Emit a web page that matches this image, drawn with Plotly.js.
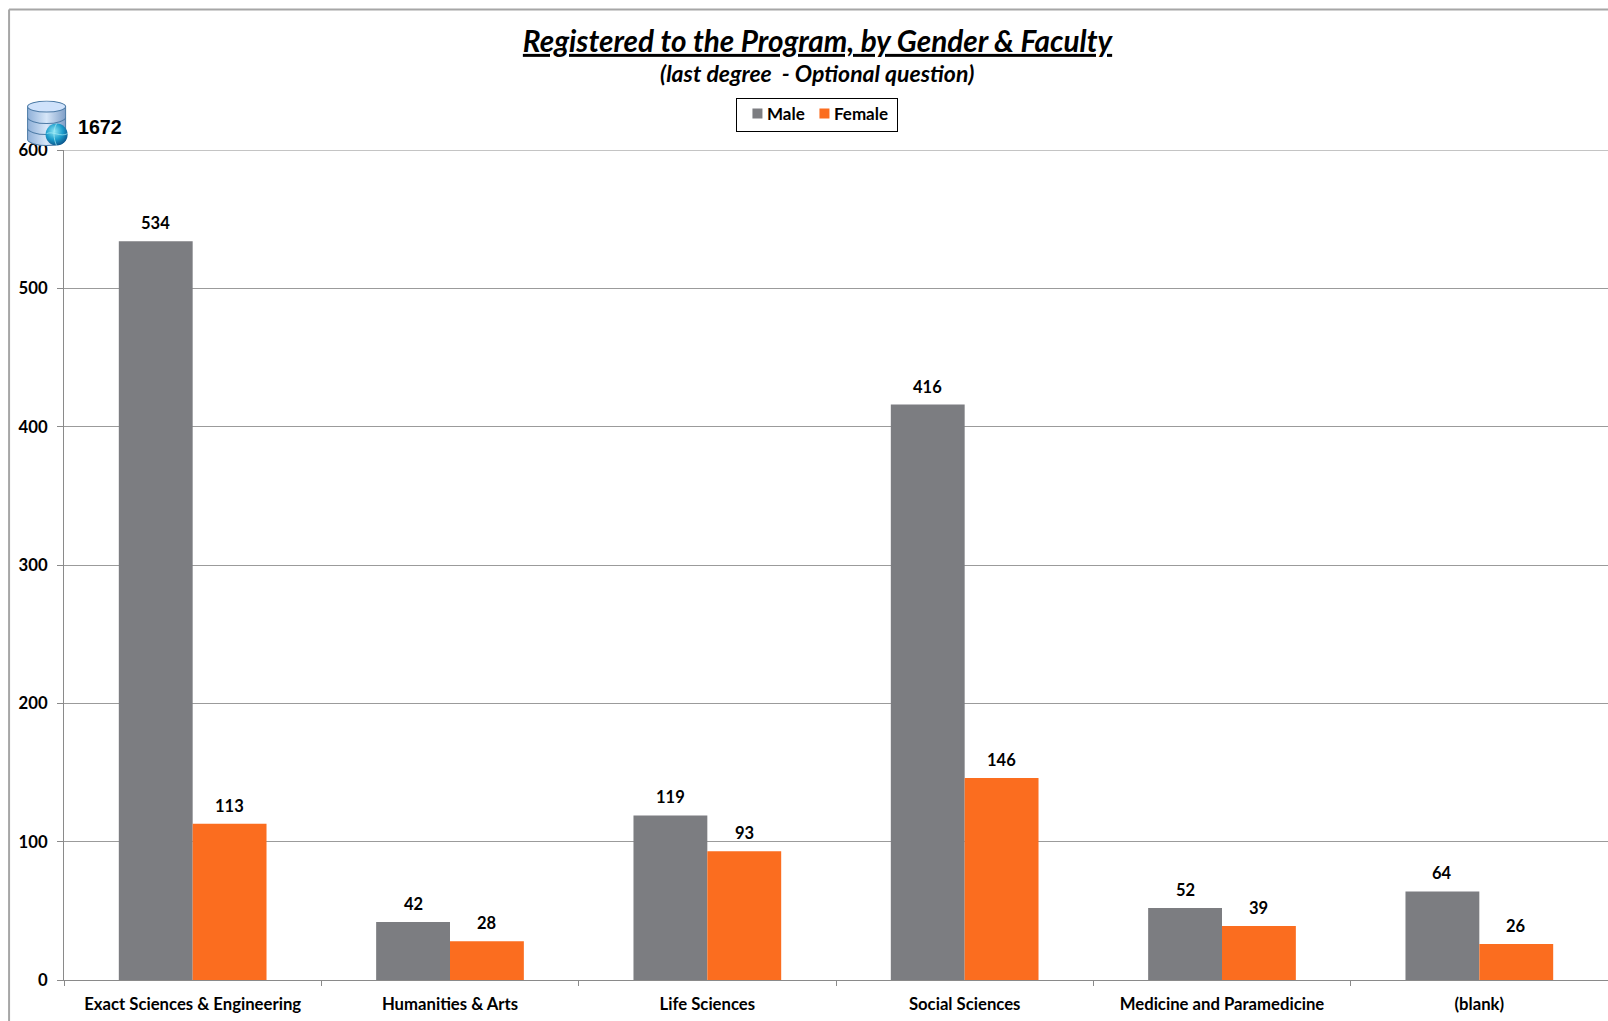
<!DOCTYPE html>
<html>
<head>
<meta charset="utf-8">
<script src="https://cdn.plot.ly/plotly-3.0.1.min.js"></script>
<style>html,body{margin:0;padding:0;background:#fff;overflow:hidden}#chart{width:1608px;height:1021px}</style>
</head>
<body>
<div id="chart"></div>
<script>
const categories = ["Exact Sciences & Engineering","Humanities & Arts","Life Sciences","Social Sciences","Medicine and Paramedicine","(blank)"];
const male = [534,42,119,416,52,64];
const female = [113,28,93,146,39,26];
const yTicks = [0,100,200,300,400,500,600];
const titleText = "Registered to the Program, by Gender & Faculty";
const subtitleText = "(last degree  - Optional question)";
const totalText = "1672";

const FONT = "Lato, Carlito, Calibri, sans-serif";
const W = 1608, H = 1021;
const L = 64.4, R = 1607.6, T = 150.4, B = 980;
const px = x => (x - L) / (R - L);
const py = y => (B - y) / (B - T);

const icon = `<svg xmlns="http://www.w3.org/2000/svg" width="42" height="46" viewBox="0 0 42 46">
<defs>
<linearGradient id="b" x1="0" x2="1" y1="0" y2="0"><stop offset="0" stop-color="#8fb0d8"/><stop offset=".5" stop-color="#d6e6f8"/><stop offset="1" stop-color="#7f9fc8"/></linearGradient>
<radialGradient id="g" cx=".4" cy=".35" r=".7"><stop offset="0" stop-color="#8fe6f5"/><stop offset=".55" stop-color="#1c9ccb"/><stop offset="1" stop-color="#0b4f86"/></radialGradient>
</defs>
<path d="M1 6V39C1 42 10 45 20 45S39 42 39 39V6Z" fill="url(#b)" stroke="#4d7ba6"/>
<path d="M1 17C1 20 10 23 20 23S39 20 39 17M1 28C1 31 10 34 20 34S39 31 39 28" fill="none" stroke="#4d7ba6"/>
<ellipse cx="20" cy="6" rx="19" ry="5.5" fill="#cfe2fb" stroke="#4d7ba6"/>
<circle cx="30" cy="34" r="11" fill="url(#g)"/>
<path d="M20 33C26 30 34 37 41 33M30 23C26 30 27 38 30 45" fill="none" stroke="#a9eef7" stroke-width=".7"/>
</svg>`;

const valueFont = { family: FONT, size: 16.5, color: "#000", weight: 700 };
const tickFont = { family: FONT, size: 16.7, color: "#000", weight: 700 };

const annotations = [];
[[male, -36.9], [female, 36.9]].forEach(([vals, shift]) => {
  vals.forEach((v, i) => annotations.push({
    x: categories[i], y: v, xref: "x", yref: "y", text: String(v), showarrow: false,
    xshift: shift, yshift: 18, font: valueFont, xanchor: "center", yanchor: "middle"
  }));
});
annotations.push({
  text: subtitleText, xref: "paper", yref: "paper", x: px(817), y: py(73), showarrow: false,
  xanchor: "center", yanchor: "middle",
  font: { family: FONT, size: 23, color: "#000", weight: 700, style: "italic" }
});
annotations.push({
  text: totalText, xref: "paper", yref: "paper", x: px(76), y: py(127), showarrow: false,
  xanchor: "left", yanchor: "middle",
  font: { family: "Liberation Sans, Arial, sans-serif", size: 19.6, color: "#000", weight: 700 }
});

const traces = [
  { type: "bar", name: "Male", x: categories, y: male, marker: { color: "#7c7d81" }, cliponaxis: false },
  { type: "bar", name: "Female", x: categories, y: female, marker: { color: "#fb6d1f" }, cliponaxis: false }
];

const layout = {
  width: W, height: H,
  margin: { l: L, r: W - R, t: T, b: H - B, pad: 0 },
  paper_bgcolor: "#fff", plot_bgcolor: "#fff",
  barmode: "group", bargap: 0.426, bargroupgap: 0,
  title: {
    text: titleText, xref: "container", yref: "container", x: 817.5 / W, y: 1 - 41.5 / H,
    xanchor: "center", yanchor: "middle",
    font: { family: FONT, size: 29.7, color: "#000", weight: 700, style: "italic", lineposition: "under" }
  },
  showlegend: true,
  legend: {
    orientation: "h", x: px(736.5), y: py(98.5), xanchor: "left", yanchor: "top",
    bordercolor: "#000", borderwidth: 1, bgcolor: "#fff", traceorder: "normal",
    font: { family: FONT, size: 17, color: "#000", weight: 700 },
    itemsizing: "constant", itemwidth: 30
  },
  xaxis: {
    type: "category", categoryorder: "array", categoryarray: categories,
    tickson: "boundaries", ticks: "outside", ticklen: 5, tickwidth: 1, tickcolor: "#8a8a8a",
    showline: true, linecolor: "#8a8a8a", linewidth: 1, showgrid: false,
    tickfont: tickFont, ticklabelstandoff: 9, automargin: false
  },
  yaxis: {
    range: [0, 600], tickvals: yTicks, ticktext: yTicks.map(String),
    ticks: "outside", ticklen: 6, tickwidth: 1, tickcolor: "#8a8a8a",
    showline: true, linecolor: "#8a8a8a", linewidth: 1,
    showgrid: true, gridcolor: "#9b9b9b", gridwidth: 1, zeroline: false,
    tickfont: tickFont, ticklabelstandoff: 6, automargin: false
  },
  annotations,
  shapes: [
    { type: "line", xref: "paper", yref: "paper", x0: px(9.5), x1: px(1608), y0: py(10), y1: py(10), line: { color: "#a6a6a6", width: 2 } },
    { type: "line", xref: "paper", yref: "paper", x0: px(9.5), x1: px(9.5), y0: py(10), y1: py(1021), line: { color: "#a6a6a6", width: 2 } },
    { type: "line", xref: "paper", yref: "y", x0: 0, x1: 1, y0: 600, y1: 600, line: { color: "#8a8a8a", width: 1 } },
    { type: "line", xref: "paper", yref: "paper", x0: px(736.5), x1: px(897.5), y0: py(131.5), y1: py(131.5), line: { color: "#777", width: 1.5 } }
  ],
  images: [{
    source: "data:image/svg+xml;utf8," + encodeURIComponent(icon),
    xref: "paper", yref: "paper", x: px(27), y: py(101), sizex: 42 / (R - L), sizey: 46 / (B - T),
    xanchor: "left", yanchor: "top", sizing: "stretch", layer: "above"
  }]
};

// Tighten the legend box to the reference's compact spacing.
function compactLegend(gd) {
  const bg = gd.querySelector(".legend rect.bg");
  if (bg) { bg.setAttribute("width", 161); bg.setAttribute("height", 32.5); }
  const offsets = [1, 68];
  gd.querySelectorAll(".legend .traces").forEach((t, i) => {
    t.setAttribute("transform", `translate(${offsets[i]},15.5)`);
    const txt = t.querySelector("text.legendtext");
    if (txt) txt.setAttribute("x", 29.5);
    const sw = t.querySelector(".legendpoints path, .legendbar path");
    if (sw) sw.setAttribute("d", "M5,5H-5V-5H5Z");
  });
}
Plotly.newPlot("chart", traces, layout, { displayModeBar: false, staticPlot: true }).then(compactLegend);
</script>
</body>
</html>
